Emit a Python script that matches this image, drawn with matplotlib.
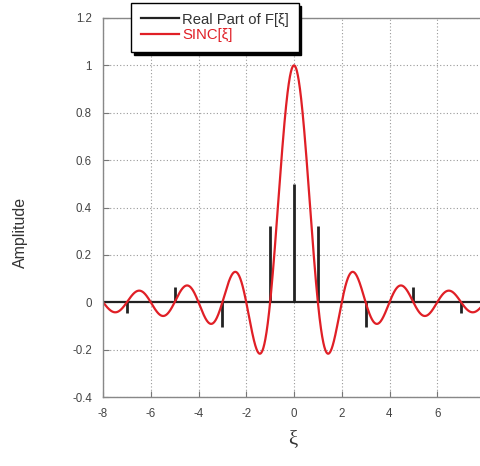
import numpy as np
import matplotlib
matplotlib.use("Agg")
import matplotlib.pyplot as plt

plt.rcParams['font.family'] = ['Liberation Sans', 'DejaVu Sans']
plt.rcParams['axes.unicode_minus'] = False

# Stem data (Real part of F[xi])
stem_x = [-7, -5, -3, -1, 0, 1, 3, 5, 7]
stem_y = [-0.045, 0.064, -0.106, 0.32, 0.5, 0.32, -0.106, 0.064, -0.045]

# SINC curve as named in the legend
xi_min, xi_max = -8, 8
xi = np.linspace(xi_min, xi_max, 1601)
sinc_vals = np.sinc(xi)

xticks = [-8, -6, -4, -2, 0, 2, 4, 6, 8]
yticks = [-0.4, -0.2, 0, 0.2, 0.4, 0.6, 0.8, 1, 1.2]
ytick_labels = ['-0.4', '-0.2', '0', '0.2', '0.4', '0.6', '0.8', '1', '1.2']

fig = plt.figure(figsize=(4.8, 4.66), dpi=100)
ax = fig.add_axes([103/480, 69/466, 382/480, 379/466])

ax.set_xlim(-8, 8)
ax.set_ylim(-0.4, 1.2)

ax.grid(True, color='#999999', linestyle=(0, (1, 2)), linewidth=0.8)
ax.set_axisbelow(True)

# baseline and stems
l_base, = ax.plot([xi_min, xi_max], [0, 0], color='#222222', lw=1.6)
ax.vlines(stem_x, 0, stem_y, color='#222222', lw=2.0)
l_sinc, = ax.plot(xi, sinc_vals, color='#e01f26', lw=1.6)

ax.set_xticks(xticks)
ax.set_yticks(yticks)
ax.set_yticklabels(ytick_labels)
ax.tick_params(direction='in', length=4, color='#777777', labelsize=8.3,
               labelcolor='#444444', pad=8)
for s in ax.spines.values():
    s.set_color('#888888')
    s.set_linewidth(1.0)

fig.text(20/480, 1 - 232/466, 'Amplitude', rotation=90, ha='center', va='center',
         fontsize=11.5, color='#333333')
fig.text(293/480, 1 - 440/466, 'ξ', ha='center', va='center', fontsize=15,
         color='#333333', family=['Liberation Serif', 'DejaVu Serif'])

leg = fig.legend([l_base, l_sinc], ['Real Part of F[ξ]', 'SINC[ξ]'],
                 loc='upper left', bbox_to_anchor=(131/480, 1 - 3/466),
                 prop={'size': 10.7}, frameon=True, fancybox=False,
                 shadow={'color': 'black', 'alpha': 1.0},
                 edgecolor='black', framealpha=1, handlelength=2.6,
                 handletextpad=0.2, borderpad=0.65, labelspacing=0.1,
                 borderaxespad=0)
leg.get_frame().set_linewidth(1.0)
leg.get_texts()[0].set_color('#333333')
leg.get_texts()[1].set_color('#e01f26')

fig.savefig('out.png', dpi=100)
